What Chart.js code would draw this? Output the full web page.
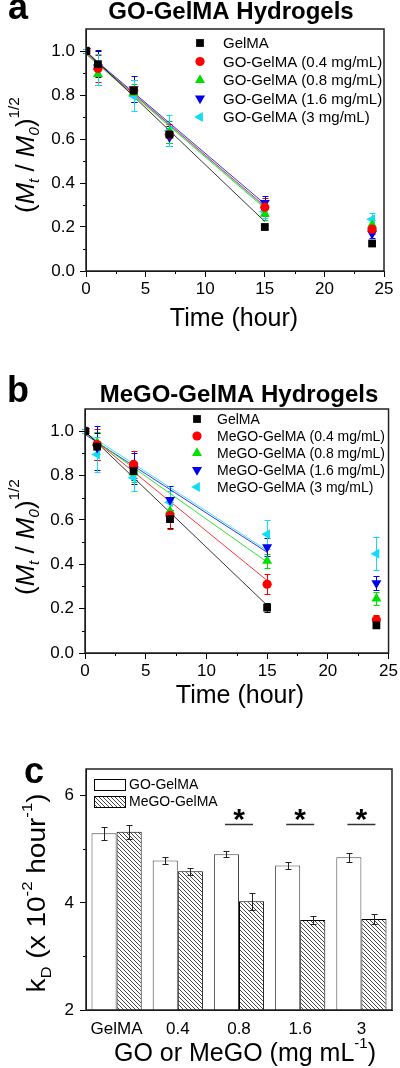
<!DOCTYPE html>
<html>
<head>
<meta charset="utf-8">
<script src="https://cdn.jsdelivr.net/npm/chart.js@4.4.1/dist/chart.umd.min.js"></script>
<style>
  html, body { margin: 0; padding: 0; background: #fff; }
  #wrap { position: relative; width: 400px; height: 1068px; overflow: hidden; }
  canvas { position: absolute; left: 0; }
</style>
</head>
<body>
<div id="wrap">
  <canvas id="chartA" width="400" height="335" style="top:0"></canvas>
  <canvas id="chartB" width="400" height="375" style="top:335px"></canvas>
  <canvas id="chartC" width="400" height="358" style="top:710px"></canvas>
</div>
<script>
// time points (hour)
const times = [0, 1, 4, 7, 15, 24];
const fitTimes = [0, 15];

// panel a - GO-GelMA hydrogels, (Mt/M0)^1/2
const aLabels = ["GelMA", "GO-GelMA (0.4 mg/mL)", "GO-GelMA (0.8 mg/mL)", "GO-GelMA (1.6 mg/mL)", "GO-GelMA (3 mg/mL)"];
const aGelMA = [1.00, 0.94, 0.82, 0.62, 0.20, 0.125];
const aGO04  = [1.00, 0.92, 0.82, 0.62, 0.29, 0.19];
const aGO08  = [1.00, 0.895, 0.81, 0.63, 0.26, 0.21];
const aGO16  = [1.00, 0.925, 0.827, 0.608, 0.31, 0.17];
const aGO3   = [1.00, 0.917, 0.796, 0.638, 0.27, 0.235];
const aErrGelMA = [0.01, 0.06, 0.05, 0.04, 0.01, 0.01];
const aErrGO04  = [0.01, 0.06, 0.05, 0.05, 0.04, 0.02];
const aErrGO08  = [0.01, 0.05, 0.04, 0.05, 0.03, 0.02];
const aErrGO16  = [0.01, 0.08, 0.06, 0.04, 0.03, 0.02];
const aErrGO3   = [0.01, 0.07, 0.07, 0.07, 0.03, 0.03];
const aFitGelMA = [1.00, 0.225];
const aFitGO04  = [0.99, 0.295];
const aFitGO08  = [0.985, 0.285];
const aFitGO16  = [0.995, 0.305];
const aFitGO3   = [0.99, 0.29];

// panel b - MeGO-GelMA hydrogels
const bLabels = ["GelMA", "MeGO-GelMA (0.4 mg/mL)", "MeGO-GelMA (0.8 mg/mL)", "MeGO-GelMA (1.6 mg/mL)", "MeGO-GelMA (3 mg/mL)"];
const bGelMA = [1.00, 0.93, 0.82, 0.604, 0.205, 0.125];
const bMe04  = [1.00, 0.94, 0.85, 0.62, 0.31, 0.15];
const bMe08  = [1.00, 0.948, 0.813, 0.64, 0.415, 0.245];
const bMe16  = [1.00, 0.925, 0.83, 0.69, 0.477, 0.315];
const bMe3   = [1.00, 0.895, 0.79, 0.68, 0.535, 0.447];
const bErrGelMA = [0.01, 0.06, 0.04, 0.04, 0.02, 0.01];
const bErrMe04  = [0.01, 0.07, 0.06, 0.06, 0.045, 0.02];
const bErrMe08  = [0.01, 0.05, 0.04, 0.05, 0.03, 0.03];
const bErrMe16  = [0.01, 0.10, 0.07, 0.065, 0.04, 0.03];
const bErrMe3   = [0.01, 0.08, 0.06, 0.05, 0.065, 0.075];
const bFitGelMA = [1.00, 0.215];
const bFitMe04  = [0.995, 0.327];
const bFitMe08  = [0.99, 0.41];
const bFitMe16  = [0.985, 0.454];
const bFitMe3   = [0.995, 0.462];

// panel c - kD (x10^-2 hour^-1)
const kdCats = ["GelMA", "0.4", "0.8", "1.6", "3"];
const kdGO = [5.30, 4.79, 4.91, 4.70, 4.85];
const kdGOErr = [0.12, 0.06, 0.05, 0.06, 0.09];
const kdMeGO = [5.33, 4.59, 4.03, 3.68, 3.70];
const kdMeGOErr = [0.13, 0.07, 0.16, 0.07, 0.10];
const sigCats = ["0.8", "1.6", "3"];

const FONT = "'Liberation Sans', Arial, sans-serif";
const f = (size, style) => (style ? style + " " : "") + size + "px " + FONT;

const markers = [
  { color: "#000000", pointStyle: "rect", rotation: 0, radius: 5.5 },
  { color: "#ff0000", pointStyle: "circle", rotation: 0, radius: 4.6 },
  { color: "#00e000", pointStyle: "triangle", rotation: 0, radius: 5.8 },
  { color: "#0000ee", pointStyle: "triangle", rotation: 180, radius: 5.8 },
  { color: "#10dcf8", pointStyle: "triangle", rotation: -90, radius: 5.8 },
];

// draws pieces of text with different fonts / offsets, centred on (x, y)
function drawRich(ctx, parts, x, y, rotate, stretch) {
  ctx.save();
  ctx.translate(x, y);
  if (rotate) ctx.rotate(-Math.PI / 2);
  ctx.scale(stretch || 1, 1);
  let total = 0;
  parts.forEach((p) => { ctx.font = p.font; total += ctx.measureText(p.t).width; });
  let cx = -total / 2;
  ctx.fillStyle = "#000";
  ctx.textAlign = "left";
  ctx.textBaseline = "alphabetic";
  parts.forEach((p) => {
    ctx.font = p.font;
    ctx.fillText(p.t, cx, p.dy || 0);
    cx += ctx.measureText(p.t).width;
  });
  ctx.restore();
}

function drawMark(ctx, m, x, y) {
  ctx.save();
  ctx.fillStyle = m.color;
  ctx.strokeStyle = m.color;
  Chart.helpers.drawPoint(ctx, { pointStyle: m.pointStyle, rotation: m.rotation, radius: m.radius, borderWidth: 0 }, x, y);
  ctx.restore();
}

function drawErrors(chart, cap) {
  const ctx = chart.ctx, ys = chart.scales.y;
  chart.data.datasets.forEach((ds, i) => {
    if (!ds.errors) return;
    const meta = chart.getDatasetMeta(i);
    ctx.save();
    ctx.strokeStyle = ds.errorColor || ds.borderColor;
    ctx.lineWidth = 1;
    ctx.beginPath();
    meta.data.forEach((el, j) => {
      const raw = ds.data[j];
      const v = typeof raw === "object" ? raw.y : raw;
      const e = ds.errors[j];
      const x = Math.round(el.x) + 0.5;
      const yt = Math.round(ys.getPixelForValue(v + e)) + 0.5;
      const yb = Math.round(ys.getPixelForValue(v - e)) + 0.5;
      ctx.moveTo(x, yt); ctx.lineTo(x, yb);
      ctx.moveTo(x - cap, yt); ctx.lineTo(x + cap, yt);
      ctx.moveTo(x - cap, yb); ctx.lineTo(x + cap, yb);
    });
    ctx.stroke();
    ctx.restore();
  });
}

function drawFrame(chart, xMinor, yMinor) {
  const { ctx, chartArea: a, scales } = chart;
  ctx.save();
  ctx.strokeStyle = "#000";
  ctx.lineWidth = 1;
  ctx.beginPath();
  xMinor.forEach((v) => {
    const px = Math.round(scales.x.getPixelForValue(v)) + 0.5;
    ctx.moveTo(px, a.bottom); ctx.lineTo(px, a.bottom + 3);
  });
  yMinor.forEach((v) => {
    const py = Math.round(scales.y.getPixelForValue(v)) + 0.5;
    ctx.moveTo(a.left, py); ctx.lineTo(a.left - 3, py);
  });
  ctx.stroke();
  ctx.lineWidth = 1.5;
  ctx.strokeStyle = "#222";
  ctx.strokeRect(a.left, a.top, a.right - a.left, a.bottom - a.top);
  ctx.restore();
}

function decayChart(id, o) {
  const datasets = [];
  o.series.forEach((vals, i) => {
    const m = markers[i];
    datasets.push({
      label: o.labels[i],
      data: times.map((t, j) => ({ x: t, y: vals[j] })),
      errors: o.errors[i],
      borderColor: m.color,
      backgroundColor: m.color,
      pointStyle: m.pointStyle,
      rotation: m.rotation,
      pointRadius: m.radius,
      pointBorderWidth: 0,
      showLine: false,
      order: 0,
    });
  });
  o.fits.forEach((vals, i) => {
    datasets.push({
      data: fitTimes.map((t, j) => ({ x: t, y: vals[j] })),
      borderColor: markers[i].color,
      borderWidth: 0.8,
      pointRadius: 0,
      showLine: true,
      order: 1,
    });
  });
  const xMinor = [2.5, 7.5, 12.5, 17.5, 22.5];
  const yMinor = [0.1, 0.3, 0.5, 0.7, 0.9];
  new Chart(document.getElementById(id), {
    type: "scatter",
    data: { datasets },
    options: {
      responsive: false,
      devicePixelRatio: 1,
      animation: false,
      layout: { padding: { top: o.top, right: o.right, left: 0, bottom: 0 } },
      scales: {
        x: {
          type: "linear", min: 0, max: 25,
          afterFit: (s) => { s.height = o.xh; },
          ticks: { stepSize: 5, color: "#000", font: { family: FONT, size: 17 }, padding: 2, maxRotation: 0 },
          grid: { drawOnChartArea: false, tickLength: 6, color: "#000" },
          border: { color: "#000" },
        },
        y: {
          min: 0, max: 1.1,
          afterFit: (s) => { s.width = o.yw; },
          ticks: { stepSize: 0.2, includeBounds: false, color: "#000", font: { family: FONT, size: 17 }, padding: 5, callback: (v) => v.toFixed(1) },
          grid: { drawOnChartArea: false, tickLength: 6, color: "#000" },
          border: { color: "#000" },
        },
      },
      plugins: { legend: { display: false }, tooltip: { enabled: false } },
    },
    plugins: [{
      id: "decoration",
      beforeDatasetsDraw(chart) { drawErrors(chart, 3); },
      afterDraw(chart) {
        const ctx = chart.ctx;
        drawFrame(chart, xMinor, yMinor);
        // panel letter and title
        ctx.save();
        ctx.fillStyle = "#000";
        ctx.textBaseline = "alphabetic";
        ctx.font = f(36, "bold");
        ctx.textAlign = "left";
        ctx.fillText(o.letter, o.letterX, o.titleY);
        ctx.font = f(24, "bold");
        ctx.textAlign = "center";
        ctx.fillText(o.title, o.titleX, o.titleY);
        // legend
        ctx.font = f(o.legFont);
        ctx.textAlign = "left";
        ctx.textBaseline = "middle";
        o.labels.forEach((lab, i) => {
          const y = o.legY + i * o.legStep;
          drawMark(ctx, markers[i], o.legX, y);
          ctx.fillStyle = "#000";
          ctx.fillText(lab, o.legTextX, y + 1);
        });
        ctx.restore();
        drawRich(ctx, [{ t: "Time (hour)", font: f(25) }], o.xLabelX, o.xLabelY, false);
        drawRich(ctx, [
          { t: "(", font: f(25) },
          { t: "M", font: f(25, "italic") },
          { t: "t", font: f(15, "italic"), dy: 5 },
          { t: " / ", font: f(25) },
          { t: "M", font: f(25, "italic") },
          { t: "0", font: f(15, "italic"), dy: 5 },
          { t: ")", font: f(25) },
          { t: "1/2", font: f(15), dy: -15 },
        ], o.yLabelX, o.yLabelY, true, 1.03);
      },
    }],
  });
}

decayChart("chartA", {
  series: [aGelMA, aGO04, aGO08, aGO16, aGO3],
  errors: [aErrGelMA, aErrGO04, aErrGO08, aErrGO16, aErrGO3],
  fits: [aFitGelMA, aFitGO04, aFitGO08, aFitGO16, aFitGO3],
  labels: aLabels,
  top: 29, right: 16, yw: 86, xh: 64,
  letter: "a", letterX: 8, title: "GO-GelMA Hydrogels", titleX: 231, titleY: 19,
  legX: 200, legY: 43, legStep: 18.5, legTextX: 223, legFont: 15,
  xLabelX: 234, xLabelY: 326, yLabelX: 34, yLabelY: 155,
});

decayChart("chartB", {
  series: [bGelMA, bMe04, bMe08, bMe16, bMe3],
  errors: [bErrGelMA, bErrMe04, bErrMe08, bErrMe16, bErrMe3],
  fits: [bFitGelMA, bFitMe04, bFitMe08, bFitMe16, bFitMe3],
  labels: bLabels,
  top: 74, right: 10, yw: 85, xh: 57,
  letter: "b", letterX: 7, title: "MeGO-GelMA Hydrogels", titleX: 239, titleY: 67,
  legX: 197, legY: 84, legStep: 17, legTextX: 217, legFont: 14,
  xLabelX: 240, xLabelY: 368, yLabelX: 34, yLabelY: 202,
});

// hatch pattern for MeGO bars
function hatch() {
  const c = document.createElement("canvas");
  c.width = 4; c.height = 4;
  const g = c.getContext("2d");
  g.fillStyle = "#fff";
  g.fillRect(0, 0, 4, 4);
  g.strokeStyle = "#333";
  g.lineWidth = 0.9;
  g.beginPath();
  g.moveTo(-1, -1); g.lineTo(5, 5);
  g.moveTo(-1, 3); g.lineTo(1, 5);
  g.moveTo(3, -1); g.lineTo(5, 1);
  g.stroke();
  return document.getElementById("chartC").getContext("2d").createPattern(c, "repeat");
}
const hatchFill = hatch();

new Chart(document.getElementById("chartC"), {
  type: "bar",
  data: {
    labels: kdCats,
    datasets: [
      { label: "GO-GelMA", data: kdGO, errors: kdGOErr, backgroundColor: "#ffffff", borderColor: "#444", errorColor: "#222", borderWidth: 1, borderSkipped: false },
      { label: "MeGO-GelMA", data: kdMeGO, errors: kdMeGOErr, backgroundColor: hatchFill, borderColor: "#000", errorColor: "#222", borderWidth: 1, borderSkipped: false },
    ],
  },
  options: {
    responsive: false,
    devicePixelRatio: 1,
    animation: false,
    layout: { padding: { top: 59, right: 8, left: 0, bottom: 0 } },
    datasets: { bar: { categoryPercentage: 0.82, barPercentage: 1.0 } },
    scales: {
      x: {
        afterFit: (s) => { s.height = 58; },
        ticks: { color: "#000", font: { family: FONT, size: 17 }, padding: 1, maxRotation: 0 },
        grid: { display: false },
        border: { color: "#000" },
      },
      y: {
        min: 2, max: 6.5,
        afterFit: (s) => { s.width = 86; },
        ticks: { stepSize: 2, includeBounds: false, color: "#000", font: { family: FONT, size: 17 }, padding: 6 },
        grid: { drawOnChartArea: false, tickLength: 6, color: "#000" },
        border: { color: "#000" },
      },
    },
    plugins: { legend: { display: false }, tooltip: { enabled: false } },
  },
  plugins: [{
    id: "decorationC",
    afterDatasetsDraw(chart) { drawErrors(chart, 3); },
    afterDraw(chart) {
      const { ctx, chartArea: a, scales } = chart;
      drawFrame(chart, [], [3, 5]);
      ctx.save();
      // legend
      const rows = [{ fill: "#ffffff", text: "GO-GelMA" }, { fill: hatchFill, text: "MeGO-GelMA" }];
      rows.forEach((r, i) => {
        const y = 69 + i * 17;
        ctx.fillStyle = r.fill;
        ctx.fillRect(94, y, 31, 11);
        ctx.strokeStyle = "#000";
        ctx.lineWidth = 1;
        ctx.strokeRect(94.5, y + 0.5, 31, 11);
        ctx.fillStyle = "#000";
        ctx.font = f(14);
        ctx.textBaseline = "middle";
        ctx.textAlign = "left";
        ctx.fillText(r.text, 129, y + 6);
      });
      // significance marks
      sigCats.forEach((c) => {
        const cx = scales.x.getPixelForValue(kdCats.indexOf(c));
        const ly = Math.round(scales.y.getPixelForValue(5.48)) + 0.5;
        ctx.strokeStyle = "#333";
        ctx.lineWidth = 1.5;
        ctx.beginPath();
        ctx.moveTo(cx - 14, ly); ctx.lineTo(cx + 14, ly);
        ctx.stroke();
        ctx.fillStyle = "#000";
        ctx.font = f(30, "bold");
        ctx.textAlign = "center";
        ctx.textBaseline = "alphabetic";
        ctx.fillText("*", cx, ly + 4);
      });
      ctx.font = f(36, "bold");
      ctx.textAlign = "left";
      ctx.fillText("c", 24, 73);
      ctx.restore();
      drawRich(ctx, [
        { t: "GO or MeGO (mg mL", font: f(25) },
        { t: "-1", font: f(15), dy: -13 },
        { t: ")", font: f(25) },
      ], 245, 351, false);
      drawRich(ctx, [
        { t: "k", font: f(25) },
        { t: "D", font: f(15), dy: 6 },
        { t: " (x 10", font: f(25) },
        { t: "-2", font: f(15), dy: -13 },
        { t: " hour", font: f(25) },
        { t: "-1", font: f(15), dy: -13 },
        { t: ")", font: f(25) },
      ], 45, 183, true, 1.12);
    },
  }],
});
</script>
</body>
</html>
